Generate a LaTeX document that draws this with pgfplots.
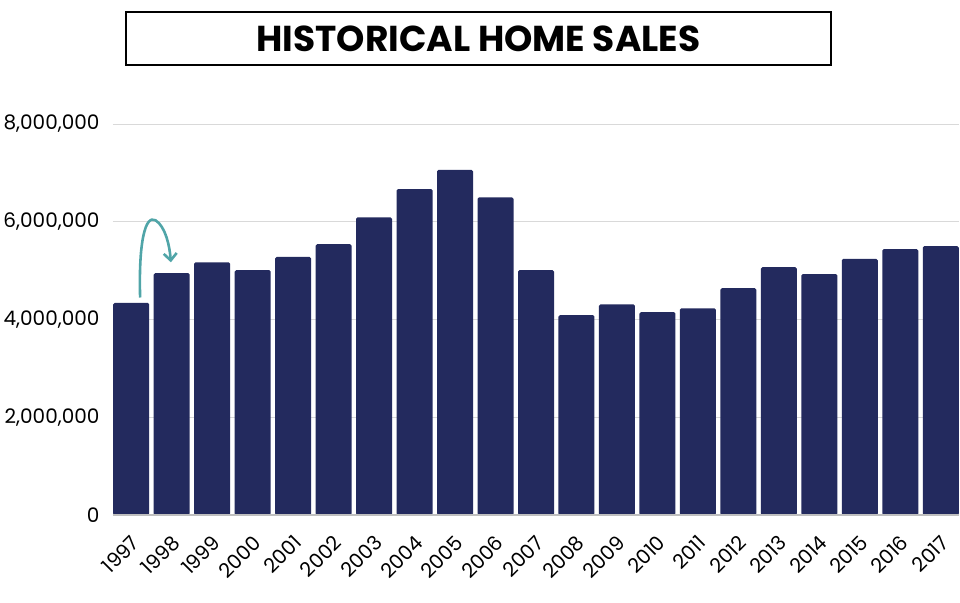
\documentclass[border=0pt]{standalone}
\usepackage{pgfplots}
\pgfplotsset{compat=1.18}
\usepackage{fontspec}
\setmainfont{Poppins}
\usetikzlibrary{arrows.meta}
\definecolor{barblue}{HTML}{232A5E}
\definecolor{teal2}{HTML}{50A5A8}
\definecolor{gridgray}{HTML}{D9D9D9}
\definecolor{axisgray}{HTML}{BFBFBF}
\begin{document}
\begin{tikzpicture}[x=1pt,y=1pt]
\useasboundingbox (0,0) rectangle (960,602);
\node[draw, line width=1.3pt, minimum width=705pt, minimum height=53pt, inner sep=0pt,
  font=\fontsize{36}{38}\selectfont\bfseries] at (478.5,563.5) {HISTORICAL HOME SALES};
\begin{axis}[
  at={(113pt,87pt)}, anchor=south west, scale only axis,
  width=846pt, height=391pt,
  xmin=-0.45, xmax=20.45, ymin=0, ymax=8000000,
  axis line style={draw=none},
  ybar, bar width=36pt,
  xtick={0,...,20},
  xticklabels={1997,1998,1999,2000,2001,2002,2003,2004,2005,2006,2007,2008,2009,2010,2011,2012,2013,2014,2015,2016,2017},
  ytick={0,2000000,4000000,6000000,8000000},
  scaled y ticks=false,
  /pgf/number format/.cd, fixed, 1000 sep={,}, assume math mode=true,
  /pgfplots/.cd,
  major tick length=0pt,
  ymajorgrids, grid style={gridgray, line width=1pt},
  tick label style={font=\fontsize{20}{22}\selectfont},
  yticklabel style={xshift=-10pt},
  xticklabel style={xshift=-1pt, yshift=-14pt, rotate=45, anchor=north east},
  clip=false,
]
\addplot[fill=barblue, draw=none, rounded corners=1.5pt] coordinates {
(0,4340000) (1,4950000) (2,5170000) (3,5010000) (4,5280000) (5,5540000)
(6,6090000) (7,6670000) (8,7060000) (9,6500000) (10,5010000) (11,4090000)
(12,4310000) (13,4150000) (14,4230000) (15,4640000) (16,5070000) (17,4930000)
(18,5240000) (19,5440000) (20,5500000)};
\draw[axisgray, line width=1.2pt] (axis cs:-0.45,0) -- (axis cs:20.45,0);
\draw[teal2, line width=2.6pt, -{Straight Barb[length=7pt,width=13pt]}]
  (axis cs:0.22,4450000) .. controls (axis cs:0.18,5600000) and (axis cs:0.35,6150000) ..
  (axis cs:0.6,6030000) .. controls (axis cs:0.85,5900000) and (axis cs:0.95,5500000) ..
  (axis cs:0.98,5170000);
\end{axis}
\end{tikzpicture}
\end{document}
